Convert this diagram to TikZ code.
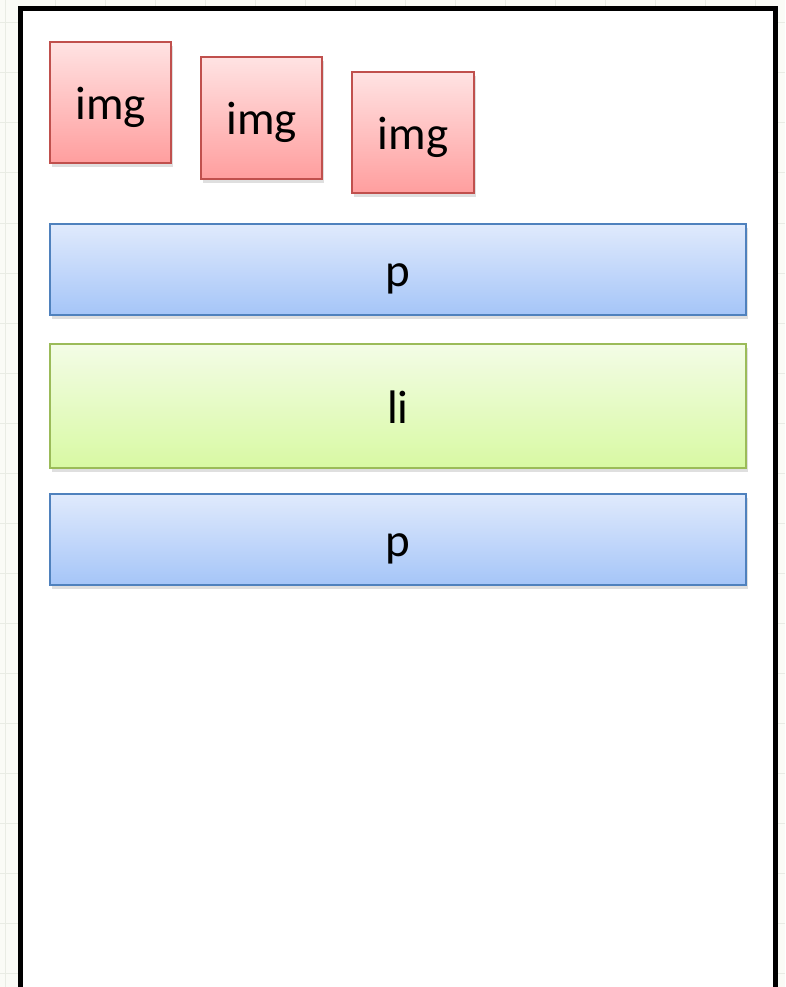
\documentclass[tikz,border=0pt]{standalone}
\usepackage{fontspec}
\setmainfont{Carlito}
\usetikzlibrary{shadows}
\definecolor{gridc}{HTML}{E9ECE4}
\definecolor{bgc}{HTML}{FAFBF6}
\definecolor{redb}{HTML}{C0504D}
\definecolor{redt}{HTML}{FFE3E3}
\definecolor{redm}{HTML}{FF9E9E}
\definecolor{blueb}{HTML}{4F81BD}
\definecolor{bluet}{HTML}{E0EAFC}
\definecolor{bluem}{HTML}{A5C5F8}
\definecolor{greenb}{HTML}{9BBB59}
\definecolor{greent}{HTML}{F3FCE6}
\definecolor{greenm}{HTML}{D8F9A3}
\tikzset{
  boxbase/.style={rectangle, line width=1.3pt, inner sep=0pt,
    font=\fontsize{47}{50}\selectfont, text height=46pt, text depth=12pt,
    drop shadow={opacity=0.25, shadow xshift=2pt, shadow yshift=-4pt}},
  imgbox/.style={boxbase, draw=redb, top color=redt, bottom color=redm,
    minimum width=121pt, minimum height=121pt},
  pbox/.style={boxbase, draw=blueb, top color=bluet, bottom color=bluem,
    minimum width=696pt, minimum height=91pt},
  libox/.style={boxbase, draw=greenb, top color=greent, bottom color=greenm,
    minimum width=696pt, minimum height=124pt},
}
\begin{document}
\begin{tikzpicture}[x=1pt,y=-1pt]
\useasboundingbox (0,0) rectangle (785,987);
\fill[bgc] (0,0) rectangle (785,987);
\foreach \k in {0,...,20} {
  \draw[gridc, line width=1pt] (0,{23+50*\k}) -- (785,{23+50*\k});
  \draw[gridc, line width=1pt] ({5+50*\k},0) -- ({5+50*\k},987);
}
\fill[white] (20,9) rectangle (775.5,1000);
\draw[black, line width=5pt] (20,1000) -- (20,9) -- (775.5,9) -- (775.5,1000);
\node[imgbox] (img1) at (110.5,102.5) {img};
\node[imgbox, minimum height=122pt] (img2) at (261.5,118) {img};
\node[imgbox, minimum width=122pt] (img3) at (413,132.5) {img};
\node[pbox] (p1) at (398,269.5) {p};
\node[libox] (li) at (398,406) {li};
\node[pbox] (p2) at (398,539.5) {p};
\end{tikzpicture}
\end{document}
